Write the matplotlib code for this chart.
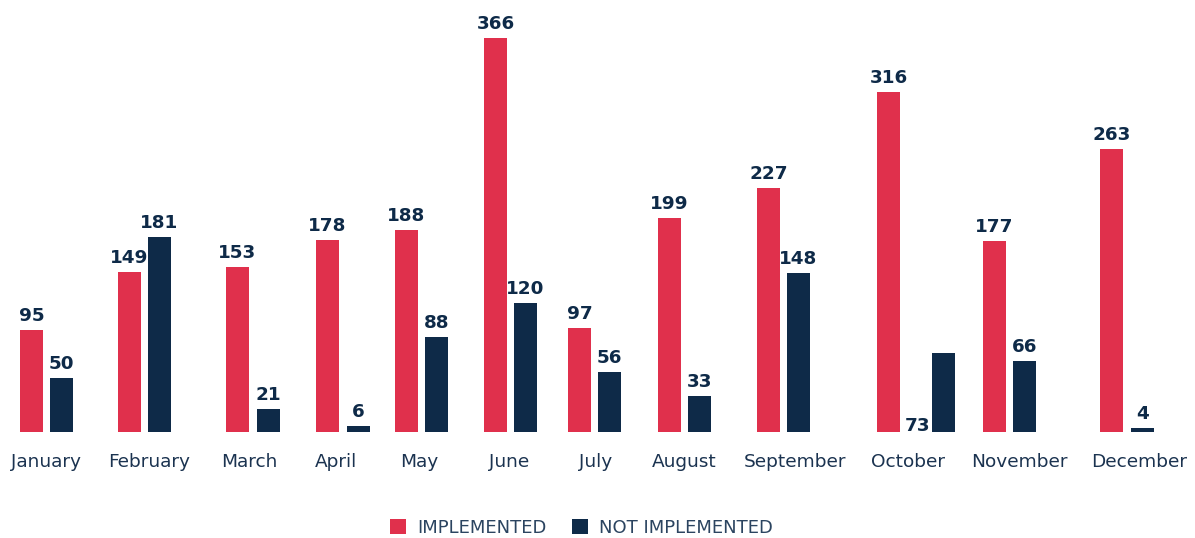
import matplotlib
matplotlib.use("Agg")
import matplotlib.pyplot as plt
from matplotlib.patches import Patch

months = ["January", "February", "March", "April", "May", "June", "July",
          "August", "September", "October", "November", "December"]
implemented = [95, 149, 153, 178, 188, 366, 97, 199, 227, 316, 177, 263]
not_implemented = [50, 181, 21, 6, 88, 120, 56, 33, 148, 73, 66, 4]

# layout (horizontal positions in pixel-like x units)
group_x = [46.5, 144.5, 253, 343, 421.5, 510.5, 594.5, 684.5, 783.5, 916, 1009.5, 1127]
pair_gap = [30, 30, 31, 31, 30, 30, 30, 30, 30, 55, 30, 31]
label_x = [46, 149, 249, 336, 419, 509, 596, 684, 795, 908, 1019, 1139]

RED = "#e0304c"
NAVY = "#0e2a48"
TEXT = "#1b3350"
W, H = 1195, 538
px_per_unit = 1.0765
base_px = 432
VFONT = "DejaVu Sans"
LFONT = "DejaVu Sans"

fig = plt.figure(figsize=(W / 100, H / 100), dpi=100)
ax = fig.add_axes([0, (H - base_px) / H, 1, base_px / H])
ax.set_xlim(0, W)
ax.set_ylim(0, base_px / px_per_unit)
ax.axis("off")

bw = 23
red_x = [g - d / 2 for g, d in zip(group_x, pair_gap)]
navy_x = [g + d / 2 for g, d in zip(group_x, pair_gap)]
ax.bar(red_x, implemented, width=bw, color=RED)
ax.bar(navy_x, not_implemented, width=bw, color=NAVY)

vfont = dict(family=VFONT, weight="bold", size=13.2, color=NAVY)
for x, v in zip(red_x, implemented):
    ax.annotate(str(v), (x, v), xytext=(0, 9), textcoords="offset pixels",
                ha="center", va="baseline", **vfont)
for i, (x, v) in enumerate(zip(navy_x, not_implemented)):
    if months[i] == "October":
        ax.annotate(str(v), (x - bw / 2, 0), xytext=(-2, 1), textcoords="offset pixels",
                    ha="right", va="baseline", **vfont)
    else:
        ax.annotate(str(v), (x, v), xytext=(0, 9), textcoords="offset pixels",
                    ha="center", va="baseline", **vfont)

for x, m in zip(label_x, months):
    ax.annotate(m, (x, 0), xytext=(0, -35), textcoords="offset pixels",
                ha="center", va="baseline", family=LFONT, size=13.3, color=TEXT)

handles = [Patch(facecolor=RED, edgecolor="none", label="IMPLEMENTED"),
           Patch(facecolor=NAVY, edgecolor="none", label="NOT IMPLEMENTED")]
fig.legend(handles=handles, loc="center", bbox_to_anchor=(581.5 / W, (H - 528) / H),
           ncol=2, frameon=False, handlelength=0.9, handleheight=0.9,
           handletextpad=0.6, columnspacing=1.4,
           prop=dict(family=LFONT, size=13), labelcolor="#2b4460")

fig.savefig("out.png", dpi=100)
